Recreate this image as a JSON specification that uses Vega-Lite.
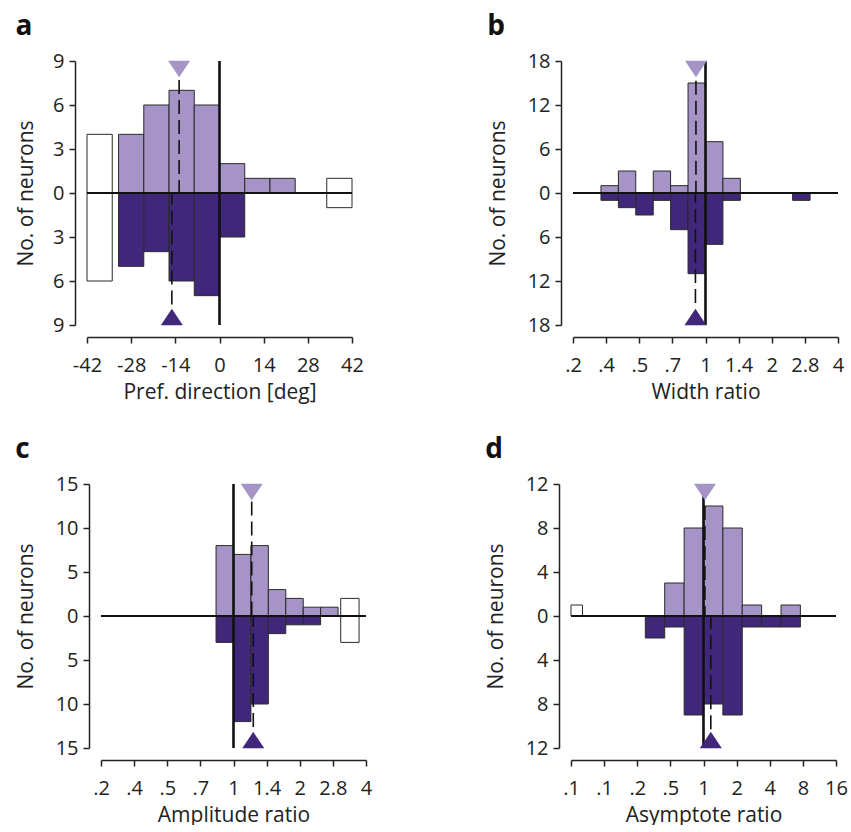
{
  "$schema": "https://vega.github.io/schema/vega-lite/v6.json",
  "background": "white",
  "padding": {"left": 15, "top": 13, "right": 0, "bottom": 0},
  "config": {
    "view": {"stroke": null},
    "font": "Open Sans",
    "axis": {
      "grid": false,
      "domainColor": "#222222",
      "domainWidth": 1.5,
      "tickColor": "#222222",
      "tickWidth": 1.5,
      "tickSize": 6,
      "labelFont": "Open Sans",
      "labelFontSize": 20,
      "labelColor": "#222222",
      "labelFlush": false,
      "labelOverlap": false,
      "titleFont": "Open Sans",
      "titleFontSize": 21,
      "titleFontWeight": "normal",
      "titleColor": "#222222",
      "offset": 12
    },
    "axisX": {"labelPadding": 12, "titlePadding": 6},
    "axisY": {"labelPadding": 5, "titlePadding": 19},
    "title": {"font": "Open Sans", "fontSize": 28, "fontWeight": "bold", "color": "#111111", "anchor": "start", "frame": "bounds", "offset": 10}
  },
  "datasets": {
    "bars_a": [
      {"lo": -32, "hi": -24, "n": 4, "series": "upper"},
      {"lo": -24, "hi": -16, "n": 6, "series": "upper"},
      {"lo": -16, "hi": -8, "n": 7, "series": "upper"},
      {"lo": -8, "hi": 0, "n": 6, "series": "upper"},
      {"lo": 0, "hi": 8, "n": 2, "series": "upper"},
      {"lo": 8, "hi": 16, "n": 1, "series": "upper"},
      {"lo": 16, "hi": 24, "n": 1, "series": "upper"},
      {"lo": -32, "hi": -24, "n": -5, "series": "lower"},
      {"lo": -24, "hi": -16, "n": -4, "series": "lower"},
      {"lo": -16, "hi": -8, "n": -6, "series": "lower"},
      {"lo": -8, "hi": 0, "n": -7, "series": "lower"},
      {"lo": 0, "hi": 8, "n": -3, "series": "lower"},
      {"lo": -42, "hi": -34, "n": 4, "series": "excluded"},
      {"lo": -42, "hi": -34, "n": -6, "series": "excluded"},
      {"lo": 34, "hi": 42, "n": 1, "series": "excluded"},
      {"lo": 34, "hi": 42, "n": -1, "series": "excluded"}
    ],
    "mean_a": [
      {"x": -12.8, "end": 7.7, "tri": 8.45, "series": "upper"},
      {"x": -15.1, "end": -7.6, "tri": -8.45, "series": "lower"}
    ],
    "bars_b": [
      {"lo": 0.335, "hi": 0.402, "n": 1, "series": "upper"},
      {"lo": 0.402, "hi": 0.482, "n": 3, "series": "upper"},
      {"lo": 0.579, "hi": 0.694, "n": 3, "series": "upper"},
      {"lo": 0.694, "hi": 0.833, "n": 1, "series": "upper"},
      {"lo": 0.833, "hi": 1, "n": 15, "series": "upper"},
      {"lo": 1, "hi": 1.2, "n": 7, "series": "upper"},
      {"lo": 1.2, "hi": 1.44, "n": 2, "series": "upper"},
      {"lo": 0.335, "hi": 0.402, "n": -1, "series": "lower"},
      {"lo": 0.402, "hi": 0.482, "n": -2, "series": "lower"},
      {"lo": 0.482, "hi": 0.579, "n": -3, "series": "lower"},
      {"lo": 0.579, "hi": 0.694, "n": -1, "series": "lower"},
      {"lo": 0.694, "hi": 0.833, "n": -5, "series": "lower"},
      {"lo": 0.833, "hi": 1, "n": -11, "series": "lower"},
      {"lo": 1, "hi": 1.2, "n": -7, "series": "lower"},
      {"lo": 1.2, "hi": 1.44, "n": -1, "series": "lower"},
      {"lo": 2.488, "hi": 2.986, "n": -1, "series": "lower"}
    ],
    "mean_b": [
      {"x": 0.905, "end": 15.3, "tri": 16.9, "series": "upper"},
      {"x": 0.9, "end": -15.0, "tri": -16.9, "series": "lower"}
    ],
    "bars_c": [
      {"lo": 0.833, "hi": 1, "n": 8, "series": "upper"},
      {"lo": 1, "hi": 1.2, "n": 7, "series": "upper"},
      {"lo": 1.2, "hi": 1.44, "n": 8, "series": "upper"},
      {"lo": 1.44, "hi": 1.728, "n": 3, "series": "upper"},
      {"lo": 1.728, "hi": 2.074, "n": 2, "series": "upper"},
      {"lo": 2.074, "hi": 2.488, "n": 1, "series": "upper"},
      {"lo": 2.488, "hi": 2.986, "n": 1, "series": "upper"},
      {"lo": 0.833, "hi": 1, "n": -3, "series": "lower"},
      {"lo": 1, "hi": 1.2, "n": -12, "series": "lower"},
      {"lo": 1.2, "hi": 1.44, "n": -10, "series": "lower"},
      {"lo": 1.44, "hi": 1.728, "n": -2, "series": "lower"},
      {"lo": 1.728, "hi": 2.074, "n": -1, "series": "lower"},
      {"lo": 2.074, "hi": 2.488, "n": -1, "series": "lower"},
      {"lo": 3.07, "hi": 3.72, "n": 2, "series": "excluded"},
      {"lo": 3.07, "hi": 3.72, "n": -3, "series": "excluded"}
    ],
    "mean_c": [
      {"x": 1.21, "end": 13.0, "tri": 14.1, "series": "upper"},
      {"x": 1.23, "end": -12.6, "tri": -14.1, "series": "lower"}
    ],
    "bars_d": [
      {"lo": 0.444, "hi": 0.667, "n": 3, "series": "upper"},
      {"lo": 0.667, "hi": 1, "n": 8, "series": "upper"},
      {"lo": 1, "hi": 1.5, "n": 10, "series": "upper"},
      {"lo": 1.5, "hi": 2.25, "n": 8, "series": "upper"},
      {"lo": 2.25, "hi": 3.375, "n": 1, "series": "upper"},
      {"lo": 5.063, "hi": 7.594, "n": 1, "series": "upper"},
      {"lo": 0.296, "hi": 0.444, "n": -2, "series": "lower"},
      {"lo": 0.444, "hi": 0.667, "n": -1, "series": "lower"},
      {"lo": 0.667, "hi": 1, "n": -9, "series": "lower"},
      {"lo": 1, "hi": 1.5, "n": -8, "series": "lower"},
      {"lo": 1.5, "hi": 2.25, "n": -9, "series": "lower"},
      {"lo": 2.25, "hi": 3.375, "n": -1, "series": "lower"},
      {"lo": 3.375, "hi": 5.063, "n": -1, "series": "lower"},
      {"lo": 5.063, "hi": 7.594, "n": -1, "series": "lower"},
      {"lo": 0.0625, "hi": 0.0795, "n": 1, "series": "excluded"}
    ],
    "mean_d": [
      {"x": 1.03, "end": 10.0, "tri": 11.27, "series": "upper"},
      {"x": 1.165, "end": -10.3, "tri": -11.27, "series": "lower"}
    ],
    "one": [{}]
  },
  "columns": 1,
  "spacing": 34,
  "concat": [
    {
      "hconcat": [
        {
          "width": 251, "height": 264,
          "title": {"text": "a"},
          "layer": [
            {
              "data": {"name": "bars_a"},
              "mark": {"type": "rect", "stroke": "#2a2a2a", "strokeWidth": 1},
              "encoding": {
                "x": {"field": "lo", "type": "quantitative", "scale": {"domain": [-42, 42], "range": [-14, 251], "nice": false, "zero": false},
                      "axis": {"title": "Pref. direction [deg]", "values": [-42, -28, -14, 0, 14, 28, 42], "labelExpr": "datum.value < 0 ? '-' + abs(datum.value) : '' + datum.value"}},
                "x2": {"field": "hi"},
                "y": {"field": "n", "type": "quantitative", "scale": {"domain": [-9, 9], "nice": false},
                      "axis": {"title": "No. of neurons", "offset": 26, "titlePadding": 16, "values": [-9, -6, -3, 0, 3, 6, 9], "labelExpr": "'' + abs(datum.value)"}},
                "y2": {"datum": 0},
                "fill": {"field": "series", "type": "nominal", "scale": {"domain": ["upper", "lower", "excluded"], "range": ["#a694c6", "#41277a", "#ffffff"]}, "legend": null}
              }
            },
            {"data": {"name": "one"}, "mark": {"type": "rule", "strokeWidth": 2.2, "color": "#111111"}, "encoding": {"y": {"datum": 0}, "x": {"datum": -42}, "x2": {"datum": 42}}},
            {"data": {"name": "one"}, "mark": {"type": "rule", "strokeWidth": 2.6, "color": "#111111"}, "encoding": {"x": {"datum": 0}}},
            {"data": {"name": "mean_a"}, "mark": {"type": "rule", "strokeWidth": 1.6, "color": "#111111", "strokeDash": [14, 6]},
             "encoding": {"x": {"field": "x", "type": "quantitative"}, "y": {"field": "end", "type": "quantitative"}, "y2": {"datum": 0}}},
            {"data": {"name": "mean_a"}, "mark": {"type": "point", "filled": true, "opacity": 1, "size": 484, "strokeWidth": 0},
             "encoding": {"x": {"field": "x", "type": "quantitative"}, "y": {"field": "tri", "type": "quantitative"},
                          "fill": {"field": "series", "type": "nominal", "legend": null},
                          "shape": {"field": "series", "type": "nominal", "scale": {"domain": ["upper", "lower"], "range": ["M-1,-0.75L1,-0.75L0,0.75Z", "M-1,0.75L1,0.75L0,-0.75Z"]}, "legend": null}}}
          ]
        },
        {
          "width": 265, "height": 264,
          "title": {"text": "b"},
          "layer": [
            {
              "data": {"name": "bars_b"},
              "mark": {"type": "rect", "stroke": "#2a2a2a", "strokeWidth": 1},
              "encoding": {
                "x": {"field": "lo", "type": "quantitative", "scale": {"type": "log", "base": 2, "domain": [0.25, 4], "nice": false},
                      "axis": {"title": "Width ratio", "values": [0.25, 0.35355, 0.5, 0.70711, 1, 1.41421, 2, 2.82843, 4],
                               "labelExpr": "datum.value < 0.3 ? '.2' : datum.value < 0.4 ? '.4' : datum.value < 0.6 ? '.5' : datum.value < 0.8 ? '.7' : datum.value < 1.2 ? '1' : datum.value < 1.6 ? '1.4' : datum.value < 2.4 ? '2' : datum.value < 3.4 ? '2.8' : '4'"}},
                "x2": {"field": "hi"},
                "y": {"field": "n", "type": "quantitative", "scale": {"domain": [-18, 18], "nice": false},
                      "axis": {"title": "No. of neurons", "values": [-18, -12, -6, 0, 6, 12, 18], "labelExpr": "'' + abs(datum.value)"}},
                "y2": {"datum": 0},
                "fill": {"field": "series", "type": "nominal", "scale": {"domain": ["upper", "lower", "excluded"], "range": ["#a694c6", "#41277a", "#ffffff"]}, "legend": null}
              }
            },
            {"data": {"name": "one"}, "mark": {"type": "rule", "strokeWidth": 2.2, "color": "#111111"}, "encoding": {"y": {"datum": 0}}},
            {"data": {"name": "one"}, "mark": {"type": "rule", "strokeWidth": 2.6, "color": "#111111"}, "encoding": {"x": {"datum": 1}}},
            {"data": {"name": "mean_b"}, "mark": {"type": "rule", "strokeWidth": 1.6, "color": "#111111", "strokeDash": [14, 6]},
             "encoding": {"x": {"field": "x", "type": "quantitative"}, "y": {"field": "end", "type": "quantitative"}, "y2": {"datum": 0}}},
            {"data": {"name": "mean_b"}, "mark": {"type": "point", "filled": true, "opacity": 1, "size": 484, "strokeWidth": 0},
             "encoding": {"x": {"field": "x", "type": "quantitative"}, "y": {"field": "tri", "type": "quantitative"},
                          "fill": {"field": "series", "type": "nominal", "legend": null},
                          "shape": {"field": "series", "type": "nominal", "scale": {"domain": ["upper", "lower"], "range": ["M-1,-0.75L1,-0.75L0,0.75Z", "M-1,0.75L1,0.75L0,-0.75Z"]}, "legend": null}}}
          ]
        }
      ],
      "spacing": 121
    },
    {
      "hconcat": [
        {
          "width": 265, "height": 264,
          "title": {"text": "c"},
          "layer": [
            {
              "data": {"name": "bars_c"},
              "mark": {"type": "rect", "stroke": "#2a2a2a", "strokeWidth": 1},
              "encoding": {
                "x": {"field": "lo", "type": "quantitative", "scale": {"type": "log", "base": 2, "domain": [0.25, 4], "nice": false},
                      "axis": {"title": "Amplitude ratio", "values": [0.25, 0.35355, 0.5, 0.70711, 1, 1.41421, 2, 2.82843, 4],
                               "labelExpr": "datum.value < 0.3 ? '.2' : datum.value < 0.4 ? '.4' : datum.value < 0.6 ? '.5' : datum.value < 0.8 ? '.7' : datum.value < 1.2 ? '1' : datum.value < 1.6 ? '1.4' : datum.value < 2.4 ? '2' : datum.value < 3.4 ? '2.8' : '4'"}},
                "x2": {"field": "hi"},
                "y": {"field": "n", "type": "quantitative", "scale": {"domain": [-15, 15], "nice": false},
                      "axis": {"title": "No. of neurons", "values": [-15, -10, -5, 0, 5, 10, 15], "labelExpr": "'' + abs(datum.value)"}},
                "y2": {"datum": 0},
                "fill": {"field": "series", "type": "nominal", "scale": {"domain": ["upper", "lower", "excluded"], "range": ["#a694c6", "#41277a", "#ffffff"]}, "legend": null}
              }
            },
            {"data": {"name": "one"}, "mark": {"type": "rule", "strokeWidth": 2.2, "color": "#111111"}, "encoding": {"y": {"datum": 0}}},
            {"data": {"name": "one"}, "mark": {"type": "rule", "strokeWidth": 2.6, "color": "#111111"}, "encoding": {"x": {"datum": 1}}},
            {"data": {"name": "mean_c"}, "mark": {"type": "rule", "strokeWidth": 1.6, "color": "#111111", "strokeDash": [14, 6]},
             "encoding": {"x": {"field": "x", "type": "quantitative"}, "y": {"field": "end", "type": "quantitative"}, "y2": {"datum": 0}}},
            {"data": {"name": "mean_c"}, "mark": {"type": "point", "filled": true, "opacity": 1, "size": 484, "strokeWidth": 0},
             "encoding": {"x": {"field": "x", "type": "quantitative"}, "y": {"field": "tri", "type": "quantitative"},
                          "fill": {"field": "series", "type": "nominal", "legend": null},
                          "shape": {"field": "series", "type": "nominal", "scale": {"domain": ["upper", "lower"], "range": ["M-1,-0.75L1,-0.75L0,0.75Z", "M-1,0.75L1,0.75L0,-0.75Z"]}, "legend": null}}}
          ]
        },
        {
          "width": 265, "height": 264,
          "title": {"text": "d"},
          "layer": [
            {
              "data": {"name": "bars_d"},
              "mark": {"type": "rect", "stroke": "#2a2a2a", "strokeWidth": 1},
              "encoding": {
                "x": {"field": "lo", "type": "quantitative", "scale": {"type": "log", "base": 2, "domain": [0.0625, 16], "nice": false},
                      "axis": {"title": "Asymptote ratio", "values": [0.0625, 0.125, 0.25, 0.5, 1, 2, 4, 8, 16],
                               "labelExpr": "datum.value < 0.2 ? '.1' : datum.value < 0.3 ? '.2' : datum.value < 0.7 ? '.5' : datum.value < 1.5 ? '1' : datum.value < 3 ? '2' : datum.value < 6 ? '4' : datum.value < 12 ? '8' : '16'"}},
                "x2": {"field": "hi"},
                "y": {"field": "n", "type": "quantitative", "scale": {"domain": [-12, 12], "nice": false},
                      "axis": {"title": "No. of neurons", "values": [-12, -8, -4, 0, 4, 8, 12], "labelExpr": "'' + abs(datum.value)"}},
                "y2": {"datum": 0},
                "fill": {"field": "series", "type": "nominal", "scale": {"domain": ["upper", "lower", "excluded"], "range": ["#a694c6", "#41277a", "#ffffff"]}, "legend": null}
              }
            },
            {"data": {"name": "one"}, "mark": {"type": "rule", "strokeWidth": 2.2, "color": "#111111"}, "encoding": {"y": {"datum": 0}}},
            {"data": {"name": "one"}, "mark": {"type": "rule", "strokeWidth": 2.6, "color": "#111111"}, "encoding": {"x": {"datum": 1}}},
            {"data": {"name": "mean_d"}, "mark": {"type": "rule", "strokeWidth": 1.6, "color": "#111111", "strokeDash": [14, 6]},
             "encoding": {"x": {"field": "x", "type": "quantitative"}, "y": {"field": "end", "type": "quantitative"}, "y2": {"datum": 0}}},
            {"data": {"name": "mean_d"}, "mark": {"type": "point", "filled": true, "opacity": 1, "size": 484, "strokeWidth": 0},
             "encoding": {"x": {"field": "x", "type": "quantitative"}, "y": {"field": "tri", "type": "quantitative"},
                          "fill": {"field": "series", "type": "nominal", "legend": null},
                          "shape": {"field": "series", "type": "nominal", "scale": {"domain": ["upper", "lower"], "range": ["M-1,-0.75L1,-0.75L0,0.75Z", "M-1,0.75L1,0.75L0,-0.75Z"]}, "legend": null}}}
          ]
        }
      ],
      "spacing": 113
    }
  ]
}
